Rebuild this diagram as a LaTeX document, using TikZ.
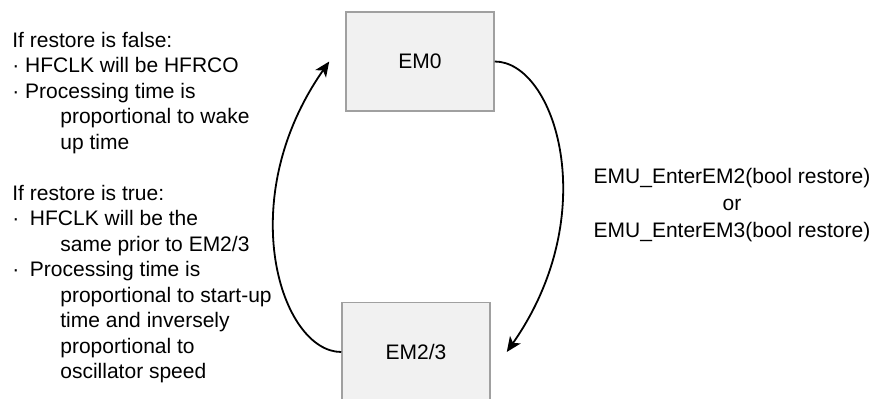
\documentclass[tikz,border=0pt]{standalone}
\usepackage{fontspec}
\setmainfont{Liberation Sans}
\usepackage{tikz}
\usetikzlibrary{arrows.meta}

\definecolor{boxfill}{HTML}{F1F1F1}
\definecolor{boxline}{HTML}{A0A0A0}
\newcommand{\contline}{\hspace*{24pt}}

\begin{document}
\begin{tikzpicture}[%
		x=0.5pt, y=0.5pt,
		font=\fontsize{10.5}{12.75}\selectfont,
		>={Stealth[length=7.5pt, width=6.5pt, inset=2pt]},
		embox/.style={draw=boxline, fill=boxfill, line width=0.75pt, minimum width=74pt, minimum height=49.5pt},
		note/.style={align=left, anchor=north west, inner sep=0pt},
		transition/.style={->, line width=0.9pt}
		]
		\clip (0,0) rectangle (875,398);

		%% energy modes
		\node[embox] (em0) at (420, 336.5) {EM0};
		\node[embox] (em23) at (416, 46) {EM2/3};

		\coordinate (em23in) at ([xshift=8pt]em23.east);
		\coordinate (em0in) at ([xshift=-8pt]em0.west);

		\draw[transition] (em0.east) to[out=0, in=55, out distance=30pt, in distance=85pt] (em23in);
		\draw[transition] (em23.west) to[out=180, in=235, out distance=30pt, in distance=85pt] (em0in);

		\node[align=center, font=\fontsize{10.5}{13.3}\selectfont] (call) at (732, 193)
			{EMU\_EnterEM2(bool restore)\\or\\EMU\_EnterEM3(bool restore)};

		%% wake-up notes
		\node[note] (falsenote) at (12, 366.6) {If restore is false:\\
			· HFCLK will be HFRCO\\
			· Processing time is\\
			\contline proportional to wake\\
			\contline up time};

		\node[note] (truenote) at (12, 213.6) {If restore is true:\\
			·\hspace{5.3pt}HFCLK will be the\\
			\contline same prior to EM2/3\\
			·\hspace{5.3pt}Processing time is\\
			\contline proportional to start-up\\
			\contline time and inversely\\
			\contline proportional to\\
			\contline oscillator speed};
	\end{tikzpicture}
\end{document}
